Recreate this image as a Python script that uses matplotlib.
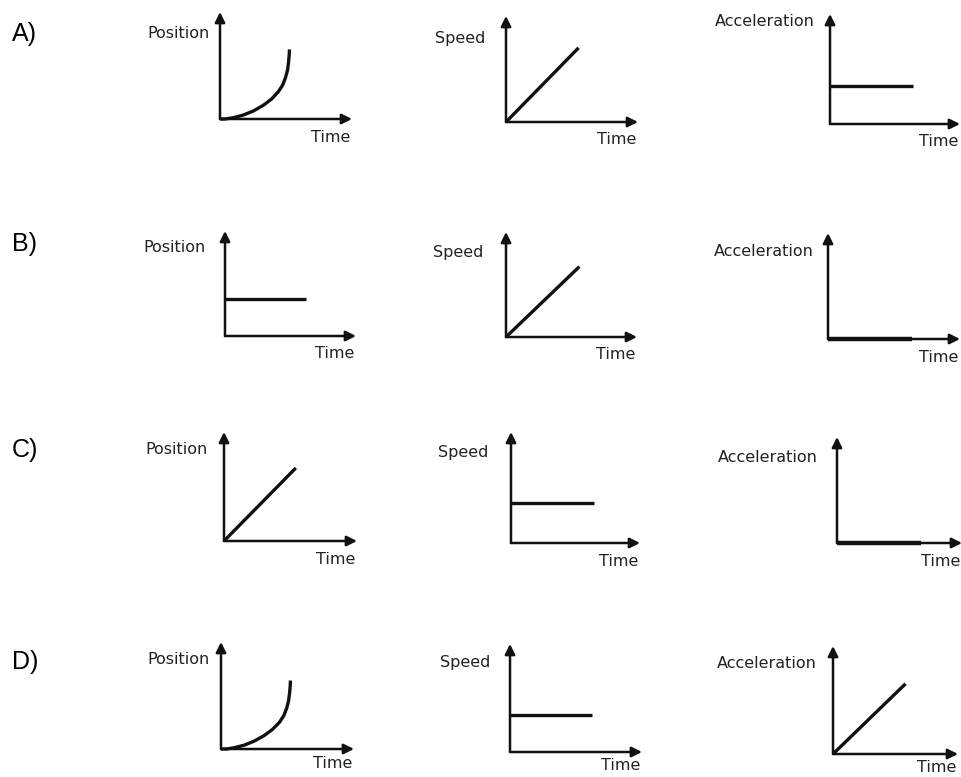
"""
Twelve small motion graphs (position / speed / acceleration vs time),
four answer rows A-D, drawn as sketch-style axes with arrowheads.
"""
import matplotlib

matplotlib.use("Agg")
import matplotlib.pyplot as plt

# ---- data (fractions of each panel's axis length) ----
row_labels = ["A)", "B)", "C)", "D)"]
quantities = ["Position", "Speed", "Acceleration"]
x_label = "Time"

# curved position graph, row A
curve_a_t = [0.0, 0.038, 0.101, 0.177, 0.253, 0.328, 0.391, 0.442, 0.475,
             0.497, 0.512, 0.520, 0.525, 0.526]
curve_a_y = [0.0, 0.0, 0.012, 0.037, 0.075, 0.128, 0.187, 0.255, 0.318,
             0.390, 0.458, 0.536, 0.614, 0.65]
# curved position graph, row D
curve_d_t = [0.0, 0.04, 0.10, 0.175, 0.25, 0.325, 0.388, 0.44, 0.472,
             0.494, 0.508, 0.516, 0.521, 0.522]
curve_d_y = [0.0, 0.0, 0.012, 0.036, 0.074, 0.126, 0.184, 0.25, 0.312,
             0.382, 0.45, 0.525, 0.60, 0.64]

# graphs per panel, keyed (row, column): (t values, quantity values)
lines = {
    (0, 0): (curve_a_t, curve_a_y),
    (0, 1): ([0.0, 0.55], [0.0, 0.70]),
    (0, 2): ([0.0, 0.64], [0.35, 0.35]),
    (1, 0): ([0.0, 0.62], [0.35, 0.35]),
    (1, 1): ([0.0, 0.56], [0.0, 0.67]),
    (1, 2): ([0.0, 0.64], [0.0, 0.0]),
    (2, 0): ([0.0, 0.54], [0.0, 0.67]),
    (2, 1): ([0.0, 0.64], [0.36, 0.36]),
    (2, 2): ([0.0, 0.67], [0.0, 0.0]),
    (3, 0): (curve_d_t, curve_d_y),
    (3, 1): ([0.0, 0.62], [0.34, 0.34]),
    (3, 2): ([0.0, 0.58], [0.0, 0.65]),
}

# ---- layout in pixels: origin x, origin y, x-arrow tip, y-arrow top ----
W, H = 961, 777
panels = {
    (0, 0): (220, 119, 352, 12), (0, 1): (506, 122, 638, 16), (0, 2): (830, 124, 960, 14),
    (1, 0): (225, 336, 356, 231), (1, 1): (506, 337, 637, 232), (1, 2): (828, 339, 960, 233),
    (2, 0): (224, 541, 357, 432), (2, 1): (511, 543, 640, 432), (2, 2): (837, 543, 962, 437),
    (3, 0): (221, 749, 354, 642), (3, 1): (510, 752, 642, 644), (3, 2): (833, 754, 958, 646),
}
# y-label offset (px left of axis, px below arrow top)
ylab_off = {
    (0, 0): (10, 21), (0, 1): (21, 22), (0, 2): (15, 8),
    (1, 0): (19, 17), (1, 1): (23, 20), (1, 2): (14, 19),
    (2, 0): (16, 18), (2, 1): (23, 20), (2, 2): (19, 20),
    (3, 0): (11, 18), (3, 1): (20, 18), (3, 2): (16, 18),
}
time_drop = [18, 18, 18, 14]  # px below the x axis, per row
row_label_y = [34, 244, 450, 662]

INK = "#111111"
PT = 72 / 100  # pixels -> points at dpi 100

fig = plt.figure(figsize=(W / 100, H / 100), dpi=100)
fig.patch.set_facecolor("white")

for (r, c), (ox, oy, tip, top) in panels.items():
    ax = fig.add_axes([ox / W, 1 - oy / H, (tip - ox) / W, (oy - top) / H])
    ax.set_xlim(0, 1)
    ax.set_ylim(0, 1)
    ax.axis("off")

    arrow = dict(arrowstyle="-|>", color=INK, lw=1.8, mutation_scale=15,
                 shrinkA=0, shrinkB=0)
    ax.annotate("", xy=(1, 0), xytext=(0, 0), arrowprops=arrow, annotation_clip=False)
    ax.annotate("", xy=(0, 1), xytext=(0, 0), arrowprops=arrow, annotation_clip=False)

    t, v = lines[(r, c)]
    flat = all(val == 0 for val in v)
    ax.plot(t, v, color=INK, lw=3.2 if flat else 2.4, solid_capstyle="butt",
            solid_joinstyle="round", clip_on=False)

    dx, dy = ylab_off[(r, c)]
    ax.annotate(quantities[c], xy=(0, 1), xycoords="axes fraction",
                xytext=(-dx * PT, -dy * PT), textcoords="offset points",
                ha="right", va="center", fontsize=11.5, family="DejaVu Sans",
                color="#222222", annotation_clip=False)
    ax.annotate(x_label, xy=(1, 0), xycoords="axes fraction",
                xytext=(-2 * PT, -time_drop[r] * PT), textcoords="offset points",
                ha="right", va="center", fontsize=11.5, family="DejaVu Sans",
                color="#222222", annotation_clip=False)

for lab, y in zip(row_labels, row_label_y):
    fig.text(12 / W, 1 - y / H, lab, ha="left", va="center",
             fontsize=18, family="Liberation Sans", color="black")

fig.savefig("out.png", dpi=100, facecolor="white")
plt.close(fig)
